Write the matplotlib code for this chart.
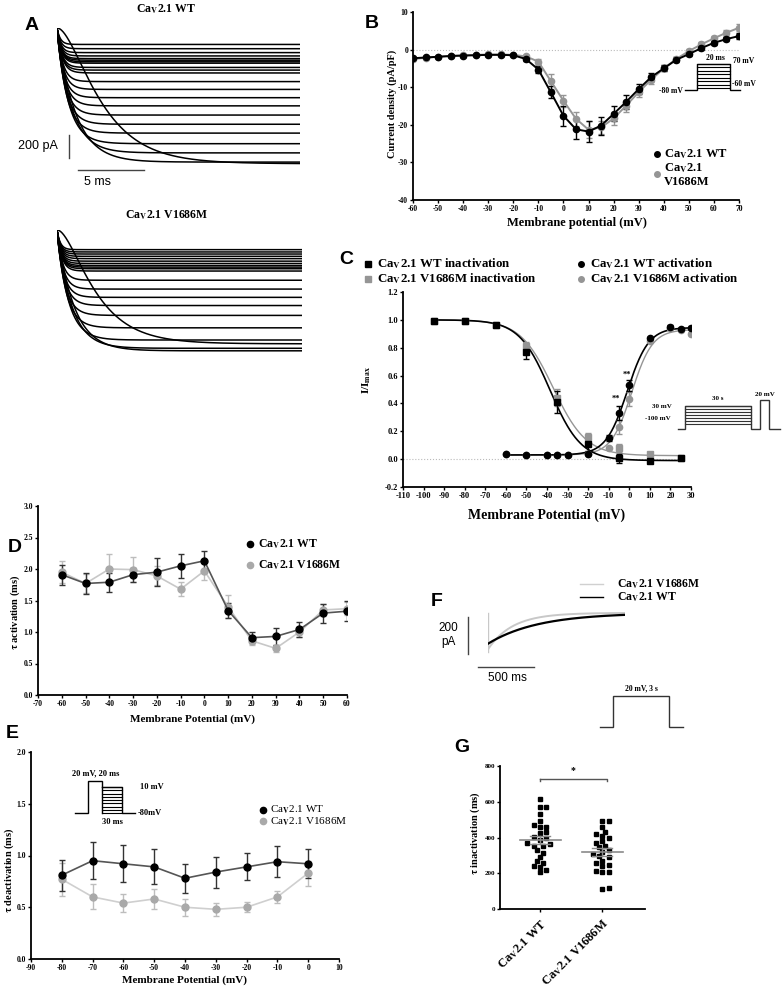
import numpy as np
import matplotlib
matplotlib.use('agg')
import matplotlib.pyplot as plt
from matplotlib.ticker import FormatStrFormatter

plt.rcParams['font.family'] = ['Liberation Serif', 'DejaVu Serif']
plt.rcParams['font.weight'] = 'bold'
plt.rcParams['mathtext.fontset'] = 'stix'
plt.rcParams['axes.unicode_minus'] = False

W, H = 782, 990
BLACK = '#000000'
GREY = '#959595'

# ---------------- data ----------------
# A: current traces (level in pA, time constant in ms, activation power)
a_wt_level = [143, 180, 214, 243, 266, 280, 294, 306, 343, 366, 391, 466, 534,
              606, 677, 757, 837, 914, 1006, 1086, 1166, 1180]
a_wt_tau = [0.25, 0.27, 0.28, 0.30, 0.30, 0.32, 0.33, 0.33, 0.35, 0.36, 0.38,
            0.42, 0.46, 0.50, 0.55, 0.60, 0.66, 0.72, 0.85, 1.10, 1.40, 2.50]
a_wt_pow = [1] * 21 + [2]
a_mut_level = [171, 191, 209, 229, 249, 271, 291, 309, 323, 337, 357, 437, 514,
               586, 657, 743, 851, 957, 1029, 1051, 990]
a_mut_tau = [0.25, 0.26, 0.27, 0.28, 0.29, 0.30, 0.31, 0.32, 0.33, 0.34, 0.35,
             0.40, 0.45, 0.50, 0.55, 0.60, 0.70, 0.85, 1.10, 1.30, 2.20]
a_mut_pow = [1] * 20 + [2]

# B: I-V relationship
b_v = [-60, -55, -50, -45, -40, -35, -30, -25, -20, -15, -10, -5, 0, 5, 10, 15,
       20, 25, 30, 35, 40, 45, 50, 55, 60, 65, 70]
b_wt = [-2.3, -2.1, -1.9, -1.7, -1.6, -1.5, -1.4, -1.4, -1.5, -2.5, -5.3, -11.4,
        -17.6, -21.2, -21.8, -20.2, -17.1, -13.9, -10.5, -7.3, -5.0, -2.7, -1.2,
        0.4, 1.8, 2.8, 3.6]
b_wt_err = [0.3, 0.3, 0.3, 0.3, 0.3, 0.3, 0.3, 0.3, 0.3, 0.5, 1.0, 1.6, 2.6,
            2.7, 2.8, 2.4, 2.0, 1.8, 1.3, 1.0, 0.8, 0.6, 0.5, 0.5, 0.6, 0.6, 0.7]
b_mut = [-2.5, -2.2, -1.9, -1.7, -1.5, -1.4, -1.3, -1.3, -1.4, -1.8, -3.2, -8.4,
         -13.6, -18.4, -21.3, -20.7, -18.3, -14.9, -11.3, -8.0, -5.0, -2.5, -0.4,
         1.4, 3.0, 4.5, 5.8]
b_mut_err = [0.3, 0.3, 0.3, 0.3, 0.3, 0.3, 0.3, 0.3, 0.3, 0.4, 0.8, 2.0, 1.6,
             1.8, 2.2, 1.8, 1.8, 1.6, 1.3, 1.2, 0.8, 0.6, 0.6, 0.6, 0.7, 0.8, 0.9]

# C: steady-state inactivation and activation
c_inact_v = [-95, -80, -65, -50, -35, -20, -5, 10, 25]
c_inact_wt = [0.99, 0.995, 0.96, 0.77, 0.41, 0.11, 0.005, -0.015, 0.005]
c_inact_wt_err = [0.01, 0.01, 0.01, 0.05, 0.08, 0.05, 0.03, 0.01, 0.01]
c_inact_mut = [0.99, 0.995, 0.96, 0.81, 0.44, 0.16, 0.08, 0.035, 0.005]
c_inact_mut_err = [0.01, 0.01, 0.01, 0.03, 0.06, 0.03, 0.03, 0.01, 0.01]
c_act_v = [-60, -50, -40, -35, -30, -20, -10, -5, 0, 10, 20, 25, 30]
c_act_wt = [0.035, 0.03, 0.03, 0.03, 0.03, 0.04, 0.15, 0.33, 0.53, 0.87, 0.95, 0.935, 0.945]
c_act_wt_err = [0.005, 0.005, 0.005, 0.005, 0.005, 0.01, 0.02, 0.05, 0.04, 0.01, 0.01, 0.01, 0.01]
c_act_mut = [0.035, 0.03, 0.03, 0.03, 0.03, 0.04, 0.08, 0.23, 0.43, 0.85, 0.94, 0.93, 0.90]
c_act_mut_err = [0.005, 0.005, 0.005, 0.005, 0.005, 0.01, 0.01, 0.05, 0.05, 0.01, 0.01, 0.01, 0.01]
# Boltzmann fit parameters: V1/2, k, bottom, top
c_fit_inact_wt = (-38.5, 7.5, -0.01, 1.0)
c_fit_inact_mut = (-37.0, 8.0, 0.025, 1.0)
c_fit_act_wt = (-1.0, 5.2, 0.03, 0.945)
c_fit_act_mut = (1.2, 5.0, 0.03, 0.93)

# D: activation time constants
d_v = [-60, -50, -40, -30, -20, -10, 0, 10, 20, 30, 40, 50, 60]
d_wt = [1.91, 1.77, 1.79, 1.91, 1.95, 2.05, 2.13, 1.34, 0.91, 0.93, 1.04, 1.30, 1.33]
d_wt_err = [0.16, 0.17, 0.15, 0.11, 0.22, 0.19, 0.16, 0.12, 0.09, 0.13, 0.12, 0.15, 0.16]
d_mut = [1.95, 1.77, 2.00, 1.99, 1.89, 1.68, 1.97, 1.40, 0.86, 0.74, 1.00, 1.35, 1.37]
d_mut_err = [0.18, 0.15, 0.24, 0.20, 0.15, 0.11, 0.15, 0.18, 0.06, 0.05, 0.08, 0.10, 0.10]

# E: deactivation time constants
e_v = [-80, -70, -60, -50, -40, -30, -20, -10, 0]
e_wt = [0.81, 0.95, 0.92, 0.89, 0.78, 0.84, 0.89, 0.94, 0.92]
e_wt_err = [0.15, 0.18, 0.18, 0.17, 0.14, 0.15, 0.13, 0.15, 0.14]
e_mut = [0.77, 0.60, 0.54, 0.58, 0.50, 0.48, 0.50, 0.60, 0.83]
e_mut_err = [0.16, 0.12, 0.09, 0.10, 0.08, 0.06, 0.05, 0.06, 0.12]

# F: inactivating traces (amplitude pA, tau ms)
f_amp = {'WT': 165, 'V1686M': 195}
f_tau = {'WT': 450, 'V1686M': 220}

# G: individual inactivation time constants (ms)
g_wt = [614, 573, 568, 530, 495, 468, 461, 458, 432, 425, 402, 396, 388, 372,
        365, 355, 352, 331, 313, 291, 268, 260, 240, 234, 218, 205]
g_mut = [495, 492, 458, 432, 420, 410, 396, 380, 372, 355, 345, 330, 318, 305,
         295, 290, 270, 255, 248, 242, 205, 210, 208, 118, 112]
g_labels = ['WT', 'V1686M']


def cav(s, bold=True):
    if bold:
        return r'Ca$_{\mathbf{V}}$2.1 ' + s
    return r'Ca$_{\mathrm{V}}$2.1 ' + s


fig = plt.figure(figsize=(W / 100, H / 100), dpi=100)


def ax_px(x0, y0, x1, y1):
    return fig.add_axes([x0 / W, 1 - y1 / H, (x1 - x0) / W, (y1 - y0) / H])


def style(ax, fs=5.5):
    for s in ['top', 'right']:
        ax.spines[s].set_visible(False)
    for s in ['left', 'bottom']:
        ax.spines[s].set_linewidth(1.3)
    ax.tick_params(width=1, length=2.5, labelsize=fs, pad=1)
    ax.patch.set_alpha(0)


ov = fig.add_axes([0, 0, 1, 1], zorder=10)
ov.set_xlim(0, W)
ov.set_ylim(H, 0)
ov.axis('off')
ov.patch.set_alpha(0)


def otext(x, y, s, **kw):
    kw.setdefault('ha', 'center')
    kw.setdefault('va', 'center')
    ov.text(x, y, s, **kw)


def olines(xs, ys, color='k', lw=1.0):
    ov.plot(xs, ys, color=color, lw=lw, solid_joinstyle='miter')


# panel letters
for lab, x, y in [('A', 32, 25), ('B', 372, 23), ('C', 346, 260), ('D', 15, 548),
                  ('E', 12, 733), ('F', 437, 601), ('G', 462, 747)]:
    otext(x, y, lab, family='Liberation Sans', fontweight='bold', fontsize=14)

# ---------------- A ----------------
def trace(t, level, tau, p):
    return -level * (1 - np.exp(-t / tau)) ** p


axA1 = ax_px(57, 28, 300, 166)
t1 = np.linspace(0, 18.4, 600)
for lev, tau, p in zip(a_wt_level, a_wt_tau, a_wt_pow):
    axA1.plot(t1, trace(t1, lev, tau, p), color='k', lw=1.1)
axA1.set_xlim(0, 18.4)
axA1.set_ylim(-1200, 0)
axA1.axis('off')
axA1.plot([0.9, 0.9], [-930, -1130], color='#444444', lw=1, clip_on=False)
axA1.plot([1.6, 6.6], [-1235, -1235], color='#444444', lw=1, clip_on=False)
otext(38, 146, '200 pA', family='Liberation Sans', fontweight='normal', fontsize=9)
otext(98, 182, '5 ms', family='Liberation Sans', fontweight='normal', fontsize=9)
otext(166, 9, cav('WT'), fontsize=8.5)
otext(167, 215, cav('V1686M'), fontsize=8.5)

axA2 = ax_px(57, 230, 302, 353)
t2 = np.linspace(0, 18.6, 600)
for lev, tau, p in zip(a_mut_level, a_mut_tau, a_mut_pow):
    axA2.plot(t2, trace(t2, lev, tau, p), color='k', lw=1.1)
axA2.set_xlim(0, 18.6)
axA2.set_ylim(-1070, 0)
axA2.axis('off')

# ---------------- B ----------------
axB = ax_px(413, 12, 739, 200)
style(axB)
axB.axhline(0, color='#bbbbbb', lw=0.8, ls=':', zorder=0)
axB.errorbar(b_v, b_mut, yerr=b_mut_err, color=GREY, marker='o', ms=4.5,
             lw=1.4, elinewidth=1, capsize=2)
axB.errorbar(b_v, b_wt, yerr=b_wt_err, color=BLACK, marker='o', ms=4.5,
             lw=1.4, elinewidth=1, capsize=2)
axB.set_xlim(-60, 70)
axB.set_ylim(-40, 10)
axB.set_xticks(range(-60, 71, 10))
axB.set_yticks(range(-40, 11, 10))
otext(577, 223, 'Membrane potential (mV)', fontsize=9)
otext(392, 104, 'Current density (pA/pF)', fontsize=7.5, rotation=90)
ov.plot(657, 154, 'o', color=BLACK, ms=4)
otext(664, 154, cav('WT'), ha='left', fontsize=9)
ov.plot(657, 174, 'o', color=GREY, ms=4)
otext(664, 175, r'Ca$_{\mathbf{V}}$2.1' + '\nV1686M', ha='left', fontsize=9,
      linespacing=1.1)
# protocol inset
olines([685, 697, 697, 730, 730, 740], [90, 90, 64, 64, 90, 90])
for yy in np.linspace(64, 88, 8):
    olines([697, 730], [yy, yy], lw=0.8)
otext(715, 58, '20 ms', fontsize=5.5)
otext(733, 61, '70 mV', ha='left', fontsize=5.5)
otext(732, 84, '-60 mV', ha='left', fontsize=5.5)
otext(683, 91, '-80 mV', ha='right', fontsize=5.5)

# ---------------- C ----------------
def boltz(v, p, rising):
    vh, k, lo, hi = p
    s = (v - vh) / k if rising else (vh - v) / k
    return lo + (hi - lo) / (1 + np.exp(-s))


axC = ax_px(403, 292, 691, 487)
style(axC, fs=6)
axC.axhline(0, xmax=0.97, color='#bbbbbb', lw=0.8, ls=':', zorder=0)
vi = np.linspace(-95, 25, 300)
va = np.linspace(-60, 30, 300)
axC.plot(vi, boltz(vi, c_fit_inact_mut, False), color=GREY, lw=1)
axC.plot(va, boltz(va, c_fit_act_mut, True), color=GREY, lw=1)
axC.plot(vi, boltz(vi, c_fit_inact_wt, False), color=BLACK, lw=1.2)
axC.plot(va, boltz(va, c_fit_act_wt, True), color=BLACK, lw=1.2)
axC.errorbar(c_inact_v, c_inact_mut, yerr=c_inact_mut_err, fmt='s', color=GREY,
             ms=5, elinewidth=1, capsize=2)
axC.errorbar(c_act_v, c_act_mut, yerr=c_act_mut_err, fmt='o', color=GREY,
             ms=4.5, elinewidth=1, capsize=2)
axC.errorbar(c_inact_v, c_inact_wt, yerr=c_inact_wt_err, fmt='s', color=BLACK,
             ms=5, elinewidth=1, capsize=2)
axC.errorbar(c_act_v, c_act_wt, yerr=c_act_wt_err, fmt='o', color=BLACK,
             ms=4.5, elinewidth=1, capsize=2)
axC.text(-6.5, 0.42, '**', fontsize=6, ha='center')
axC.text(-1, 0.59, '**', fontsize=6, ha='center')
axC.set_xlim(-110, 30)
axC.set_ylim(-0.2, 1.2)
axC.set_xticks(range(-110, 31, 10))
axC.set_yticks(np.arange(-0.2, 1.21, 0.2))
axC.yaxis.set_major_formatter(FormatStrFormatter('%.1f'))
otext(547, 515, 'Membrane Potential (mV)', fontsize=10)
otext(367, 380, r'I/I$_{\mathbf{max}}$', fontsize=8, rotation=90)
ov.plot(368, 264, 's', color=BLACK, ms=4)
otext(377, 264, cav('WT inactivation'), ha='left', fontsize=9.3)
ov.plot(368, 279, 's', color=GREY, ms=4)
otext(377, 279, cav('V1686M inactivation'), ha='left', fontsize=9.3)
ov.plot(581, 264, 'o', color=BLACK, ms=4)
otext(590, 264, cav('WT activation'), ha='left', fontsize=9.3)
ov.plot(581, 279, 'o', color=GREY, ms=4)
otext(590, 279, cav('V1686M activation'), ha='left', fontsize=9.3)
# protocol inset
olines([678, 685, 685, 751, 751, 760, 760, 769, 769, 780],
       [429, 429, 406, 406, 429, 429, 400, 400, 429, 429], color='#333333')
for yy in np.linspace(406, 424, 7):
    olines([685, 751], [yy, yy], color='#333333', lw=0.8)
otext(718, 399, '30 s', fontsize=5)
otext(765, 395, '20 mV', fontsize=5)
otext(662, 406, '30 mV', fontsize=5)
otext(658, 419, '-100 mV', fontsize=5)

# ---------------- D ----------------
axD = ax_px(38, 506, 347, 695)
style(axD)
axD.errorbar(d_v, d_mut, yerr=d_mut_err, color='#c8c8c8', marker='o', ms=5,
             mfc='#a9a9a9', mec='#a9a9a9', lw=1.2, elinewidth=1, ecolor='#bdbdbd', capsize=2)
axD.errorbar(d_v, d_wt, yerr=d_wt_err, color='#555555', marker='o', ms=5,
             mfc='k', mec='k', lw=1.2, elinewidth=1, ecolor='#333333', capsize=2)
axD.set_xlim(-70, 60)
axD.set_ylim(0, 3)
axD.set_xticks(range(-70, 61, 10))
axD.set_yticks(np.arange(0, 3.01, 0.5))
axD.yaxis.set_major_formatter(FormatStrFormatter('%.1f'))
otext(192, 719, 'Membrane Potential (mV)', fontsize=8)
otext(15, 612, r'$\mathbf{\tau}$ activation (ms)', fontsize=7.5, rotation=90)
ov.plot(250, 544, 'o', color='k', ms=4.5)
otext(258, 544, cav('WT'), ha='left', fontsize=8.5)
ov.plot(250, 565, 'o', color='#a9a9a9', ms=4.5)
otext(258, 565, cav('V1686M'), ha='left', fontsize=8.5)

# ---------------- E ----------------
axE = ax_px(31, 752, 339, 959)
style(axE)
axE.errorbar(e_v, e_mut, yerr=e_mut_err, color='#cfcfcf', marker='o', ms=5,
             mfc='#a9a9a9', mec='#a9a9a9', lw=1.2, elinewidth=1, ecolor='#bdbdbd', capsize=2)
axE.errorbar(e_v, e_wt, yerr=e_wt_err, color='#555555', marker='o', ms=5,
             mfc='k', mec='k', lw=1.2, elinewidth=1, ecolor='#333333', capsize=2)
axE.set_xlim(-90, 10)
axE.set_ylim(0, 2)
axE.set_xticks(range(-90, 11, 10))
axE.set_yticks(np.arange(0, 2.01, 0.5))
axE.yaxis.set_major_formatter(FormatStrFormatter('%.1f'))
otext(185, 980, 'Membrane Potential (mV)', fontsize=8)
otext(9, 870, r'$\mathbf{\tau}$ deactivation (ms)', fontsize=7.5, rotation=90)
ov.plot(263, 810, 'o', color='k', ms=4.5)
otext(270, 810, cav('WT', bold=False), ha='left', fontsize=8, fontweight='normal')
ov.plot(263, 821, 'o', color='#a9a9a9', ms=4.5)
otext(270, 822, cav('V1686M', bold=False), ha='left', fontsize=8, fontweight='normal')
# protocol inset
olines([75, 88, 88, 102, 102], [813, 813, 781, 781, 813])
olines([102, 122, 122, 135], [787, 787, 813, 813])
for yy in np.linspace(787, 813, 9):
    olines([102, 122], [yy, yy], lw=0.8)
otext(96, 773, '20 mV, 20 ms', fontsize=6)
otext(140, 787, '10 mV', ha='left', fontsize=6)
otext(138, 813, '-80mV', ha='left', fontsize=6)
otext(112, 822, '30 ms', fontsize=6)

# ---------------- F ----------------
axF = ax_px(488, 611, 625, 654)
axF.axis('off')
axF.set_xlim(0, 1232)
axF.set_ylim(-220, 10)
tf = np.linspace(0, 1232, 500)
axF.plot([0, 0], [0, -210], color='#c8c8c8', lw=1)
axF.plot(tf, -f_amp['V1686M'] * np.exp(-tf / f_tau['V1686M']), color='#c8c8c8', lw=1.4)
axF.plot(tf, -f_amp['WT'] * np.exp(-tf / f_tau['WT']), color='k', lw=1.6)
olines([468, 468], [617, 654], color='#444444')
olines([478, 534], [667, 667], color='#444444')
otext(448, 635, '200\npA', family='Liberation Sans', fontweight='normal', fontsize=8.5,
      linespacing=1.2)
otext(507, 678, '500 ms', family='Liberation Sans', fontweight='normal', fontsize=8.5)
olines([580, 603], [584, 584], color='#d0d0d0', lw=1)
otext(617, 584, cav('V1686M'), ha='left', fontsize=8.5)
olines([580, 603], [597, 597], color='k', lw=1)
otext(617, 597, cav('WT'), ha='left', fontsize=8.5)
olines([600, 613, 613, 669, 669, 683], [727, 727, 696, 696, 727, 727], color='#333333')
otext(641, 688, '20 mV, 3 s', fontsize=5.5)

# ---------------- G ----------------
def swarm(vals, xc, ypx, xpx, d=5.0, step=3.2):
    vals = np.asarray(vals, float)
    xs = np.zeros(len(vals))
    placed = []
    for i in np.argsort(vals):
        y = vals[i] * ypx
        for k in range(40):
            off = ((k + 1) // 2) * (1 if k % 2 else -1) * step
            if all((px - off) ** 2 + (py - y) ** 2 >= d * d for px, py in placed):
                break
        placed.append((off, y))
        xs[i] = xc + off / xpx
    return xs


axG = ax_px(500, 766, 645, 909)
style(axG, fs=5)
ypx = (909 - 766) / 800.0
xpx = 62.0
for i, vals in enumerate([g_wt, g_mut]):
    vals = np.asarray(vals, float)
    axG.plot(swarm(vals, i, ypx, xpx), vals, 's', color='k', ms=2.6)
    m = vals.mean()
    sem = vals.std(ddof=1) / np.sqrt(len(vals))
    axG.plot([i - 0.33, i + 0.33], [m, m], color='#8a8a8a', lw=1.2)
    axG.plot([i - 0.16, i + 0.16], [m + sem, m + sem], color='#8a8a8a', lw=1)
    axG.plot([i - 0.16, i + 0.16], [m - sem, m - sem], color='#8a8a8a', lw=1)
    axG.plot([i, i], [m - sem, m + sem], color='#8a8a8a', lw=1)
axG.plot([0, 1.08, 1.08], [730, 730, 715], color='#555555', lw=1)
axG.plot([0, 0], [730, 715], color='#555555', lw=1)
axG.text(0.53, 775, '*', fontsize=7, ha='center', va='center')
axG.set_xlim(-0.645, 1.69)
axG.set_ylim(0, 800)
axG.set_yticks(range(0, 801, 200))
axG.set_xticks([0, 1])
axG.set_xticklabels([cav(s) for s in g_labels], rotation=45, ha='right',
                    rotation_mode='anchor', fontsize=9)
axG.tick_params(axis='x', pad=3)
otext(475, 833, r'$\mathbf{\tau}$ inactivation (ms)', fontsize=7.5, rotation=90)

fig.savefig('out.png', dpi=100)
